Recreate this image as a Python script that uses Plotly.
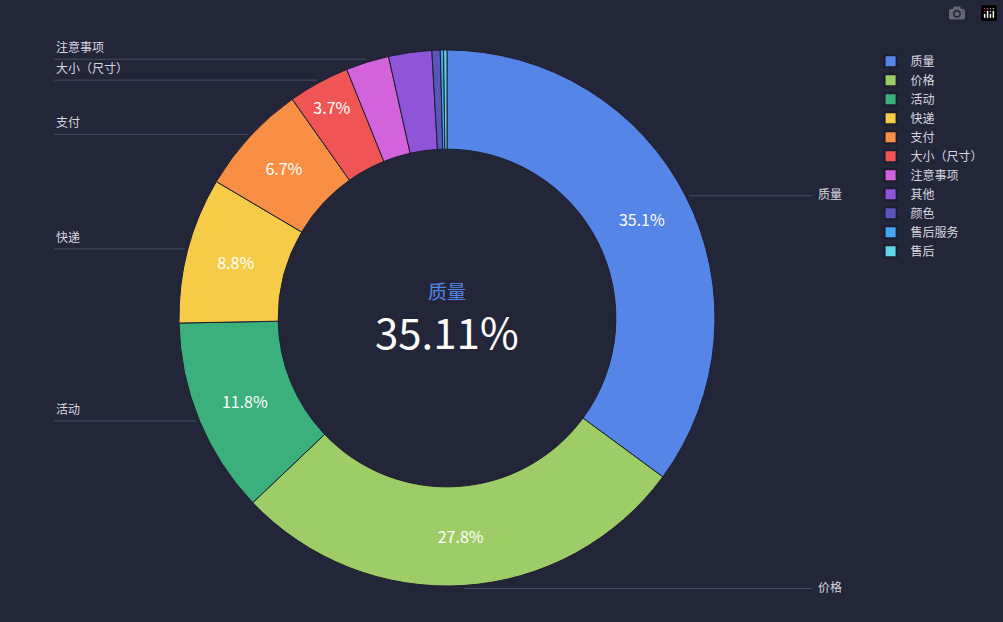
import plotly.graph_objects as go
import math

labels = ["质量","价格","活动","快递","支付","大小（尺寸）","注意事项","其他","颜色","售后服务","售后"]
values = [35.1,27.8,11.8,8.8,6.7,3.7,2.6,2.6,0.5,0.2,0.2]
colors = ["#5585e6","#9ecd67","#3bb07c","#f6cb48","#f98e45","#f05556","#d263dc","#8f55d8","#5a55b8","#43a8f0","#5fd5e6"]
outside = ["质量","价格","活动","快递","支付","大小（尺寸）","注意事项"]

W, H = 1003, 622
cx, cy, R = 447, 318, 268
bg = "#232539"
total = sum(values)
texts = [f"{v:.1f}%" if v >= 3.5 else "" for v in values]

fig = go.Figure(go.Pie(
    labels=labels, values=values, hole=0.63, sort=False, direction="clockwise", rotation=0,
    marker=dict(colors=colors, line=dict(color="#1c1e2e", width=1)),
    text=texts, texttemplate="%{text}", textposition="inside", insidetextorientation="horizontal",
    textfont=dict(color="white", size=16), hoverinfo="label+percent",
    domain=dict(x=[(cx-R)/W, (cx+R)/W], y=[1-(cy+R)/H, 1-(cy-R)/H]),
))

shapes, anns = [], []
cum = 0
for lab, v in zip(labels, values):
    mid = (cum + v/2)/total*2*math.pi
    cum += v
    if lab not in outside:
        continue
    px = cx + (R+3)*math.sin(mid)
    py = cy - (R+3)*math.cos(mid)
    right = math.sin(mid) > 0
    ex = 812 if right else 54
    shapes.append(dict(type="line", xref="paper", yref="paper", x0=px/W, y0=1-py/H, x1=ex/W, y1=1-py/H,
                       line=dict(color="#4a4d63", width=1)))
    anns.append(dict(x=(ex+4)/W if right else 54/W, y=1-(py-2)/H, xref="paper", yref="paper", text=lab,
                     showarrow=False, xanchor="left", yanchor="bottom" if not right else "middle",
                     font=dict(color="#d8d8e0", size=12)))

anns.append(dict(x=cx/W, y=1-290/H, xref="paper", yref="paper", text=labels[0], showarrow=False,
                 font=dict(color="#5585e6", size=19)))
anns.append(dict(x=cx/W, y=1-330/H, xref="paper", yref="paper", text=f"{values[0]+0.01:.2f}%", showarrow=False,
                 font=dict(color="white", size=42)))

fig.update_layout(
    width=W, height=H, margin=dict(l=0, r=0, t=0, b=0), paper_bgcolor=bg, plot_bgcolor=bg,
    font=dict(family="Noto Sans CJK SC"), shapes=shapes, annotations=anns,
    legend=dict(x=0.868, y=0.925, xanchor="left", yanchor="top", font=dict(color="#d8d8e0", size=12),
                itemsizing="constant", tracegroupgap=0, bgcolor="rgba(0,0,0,0)"),
)
fig.write_html("out.html")
with open("out.html", encoding="utf-8") as f:
    html = f.read()
html = html.replace("<body>", '<body style="margin:0;background:%s">' % bg, 1)
with open("out.html", "w", encoding="utf-8") as f:
    f.write(html)
